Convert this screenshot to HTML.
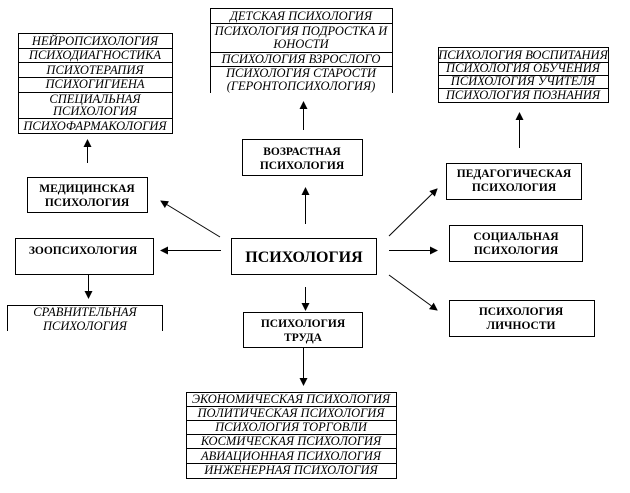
<!DOCTYPE html>
<html><head><meta charset="utf-8"><style>
html,body{margin:0;padding:0;background:#fff}
svg{display:block}
.b{font-family:"Liberation Serif","DejaVu Serif",serif;font-weight:bold;font-size:11.5px;text-anchor:middle}
.i{font-family:"Liberation Serif","DejaVu Serif",serif;font-style:italic;font-size:12.5px;text-anchor:middle}
</style></head><body>
<svg width="630" height="493" viewBox="0 0 630 493" xmlns="http://www.w3.org/2000/svg">
<defs><marker id="a" markerWidth="8" markerHeight="8" refX="7" refY="4" orient="auto" markerUnits="userSpaceOnUse"><path d="M0,0 L8,4 L0,8 z" fill="#000"/></marker></defs>
<g fill="none" stroke="#000" stroke-width="1">
<rect x="18.5" y="33.5" width="154" height="100"/>
<line x1="18" y1="48.5" x2="173" y2="48.5"/><line x1="18" y1="62.5" x2="173" y2="62.5"/><line x1="18" y1="77.5" x2="173" y2="77.5"/><line x1="18" y1="92.5" x2="173" y2="92.5"/><line x1="18" y1="118.5" x2="173" y2="118.5"/>
<polyline points="210.5,93 210.5,8.5 392.5,8.5 392.5,93"/>
<line x1="210" y1="23.5" x2="393" y2="23.5"/><line x1="210" y1="52.5" x2="393" y2="52.5"/><line x1="210" y1="66.5" x2="393" y2="66.5"/>
<rect x="438.5" y="47.5" width="170" height="55"/>
<line x1="438" y1="62.5" x2="609" y2="62.5"/><line x1="438" y1="75.5" x2="609" y2="75.5"/><line x1="438" y1="88.5" x2="609" y2="88.5"/>
<rect x="27.5" y="177.5" width="120" height="35"/>
<rect x="15.5" y="238.5" width="138" height="36"/>
<rect x="231.5" y="238.5" width="145" height="36"/>
<rect x="242.5" y="139.5" width="120" height="36"/>
<rect x="446.5" y="163.5" width="135" height="36"/>
<rect x="449.5" y="225.5" width="133" height="36"/>
<rect x="449.5" y="300.5" width="145" height="36"/>
<rect x="243.5" y="312.5" width="119" height="35"/>
<polyline points="7.5,331 7.5,305.5 162.5,305.5 162.5,331"/>
<rect x="186.5" y="392.5" width="210" height="86"/>
<line x1="186" y1="406.5" x2="397" y2="406.5"/><line x1="186" y1="420.5" x2="397" y2="420.5"/><line x1="186" y1="434.5" x2="397" y2="434.5"/><line x1="186" y1="448.5" x2="397" y2="448.5"/><line x1="186" y1="463.5" x2="397" y2="463.5"/>
<line x1="87.5" y1="163" x2="87.5" y2="140" marker-end="url(#a)"/>
<line x1="303.5" y1="130" x2="303.5" y2="102" marker-end="url(#a)"/>
<line x1="519.5" y1="148" x2="519.5" y2="113" marker-end="url(#a)"/>
<line x1="220" y1="237" x2="161" y2="201" marker-end="url(#a)"/>
<line x1="221" y1="250.5" x2="161" y2="250.5" marker-end="url(#a)"/>
<line x1="88.5" y1="274" x2="88.5" y2="298" marker-end="url(#a)"/>
<line x1="305.5" y1="224" x2="305.5" y2="188" marker-end="url(#a)"/>
<line x1="389" y1="236" x2="437" y2="189" marker-end="url(#a)"/>
<line x1="389" y1="250.5" x2="437" y2="250.5" marker-end="url(#a)"/>
<line x1="389" y1="275" x2="437" y2="310" marker-end="url(#a)"/>
<line x1="305.5" y1="287" x2="305.5" y2="310" marker-end="url(#a)"/>
<line x1="303.5" y1="348" x2="303.5" y2="385" marker-end="url(#a)"/>
</g>
<g class="i">
<text x="95" y="45">НЕЙРОПСИХОЛОГИЯ</text>
<text x="95" y="59">ПСИХОДИАГНОСТИКА</text>
<text x="95" y="74">ПСИХОТЕРАПИЯ</text>
<text x="95" y="88">ПСИХОГИГИЕНА</text>
<text x="95" y="103">СПЕЦИАЛЬНАЯ</text>
<text x="95" y="115">ПСИХОЛОГИЯ</text>
<text x="95" y="130">ПСИХОФАРМАКОЛОГИЯ</text>
<text x="301" y="20">ДЕТСКАЯ ПСИХОЛОГИЯ</text>
<text x="301" y="35">ПСИХОЛОГИЯ ПОДРОСТКА И</text>
<text x="301" y="48">ЮНОСТИ</text>
<text x="301" y="63">ПСИХОЛОГИЯ ВЗРОСЛОГО</text>
<text x="301" y="77">ПСИХОЛОГИЯ СТАРОСТИ</text>
<text x="301" y="90">(ГЕРОНТОПСИХОЛОГИЯ)</text>
<text x="523" y="59">ПСИХОЛОГИЯ ВОСПИТАНИЯ</text>
<text x="523" y="72">ПСИХОЛОГИЯ ОБУЧЕНИЯ</text>
<text x="523" y="85">ПСИХОЛОГИЯ УЧИТЕЛЯ</text>
<text x="523" y="99">ПСИХОЛОГИЯ ПОЗНАНИЯ</text>
<text x="85" y="316">СРАВНИТЕЛЬНАЯ</text>
<text x="85" y="330">ПСИХОЛОГИЯ</text>
<text x="291" y="403">ЭКОНОМИЧЕСКАЯ ПСИХОЛОГИЯ</text>
<text x="291" y="417">ПОЛИТИЧЕСКАЯ ПСИХОЛОГИЯ</text>
<text x="291" y="431">ПСИХОЛОГИЯ ТОРГОВЛИ</text>
<text x="291" y="445">КОСМИЧЕСКАЯ ПСИХОЛОГИЯ</text>
<text x="291" y="460">АВИАЦИОННАЯ ПСИХОЛОГИЯ</text>
<text x="291" y="474">ИНЖЕНЕРНАЯ ПСИХОЛОГИЯ</text>
</g>
<g class="b">
<text x="87" y="192">МЕДИЦИНСКАЯ</text>
<text x="87" y="206">ПСИХОЛОГИЯ</text>
<text x="83" y="254">ЗООПСИХОЛОГИЯ</text>
<text x="302" y="155">ВОЗРАСТНАЯ</text>
<text x="302" y="169">ПСИХОЛОГИЯ</text>
<text x="514" y="177">ПЕДАГОГИЧЕСКАЯ</text>
<text x="514" y="191">ПСИХОЛОГИЯ</text>
<text x="516" y="240">СОЦИАЛЬНАЯ</text>
<text x="516" y="254">ПСИХОЛОГИЯ</text>
<text x="521" y="315">ПСИХОЛОГИЯ</text>
<text x="521" y="329">ЛИЧНОСТИ</text>
<text x="303" y="327">ПСИХОЛОГИЯ</text>
<text x="303" y="341">ТРУДА</text>
<text x="304" y="262" style="font-size:16px">ПСИХОЛОГИЯ</text>
</g>
</svg>
</body></html>
